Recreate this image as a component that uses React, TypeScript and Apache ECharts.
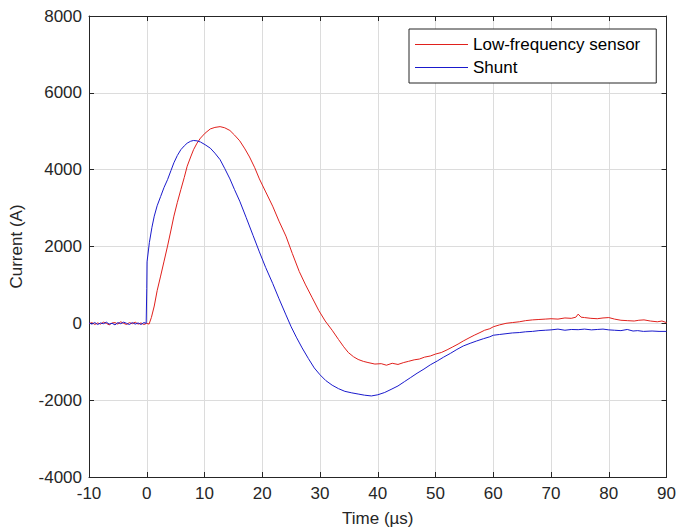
import React, { useEffect, useRef } from "react";
import * as echarts from "echarts";

const xTicks = { min: -10, max: 90, interval: 10 };
const yTicks = { min: -4000, max: 8000, interval: 2000 };

const seriesNames = ["Low-frequency sensor", "Shunt"];

// Low-frequency sensor: [time (µs), current (A)]
const lowFreq: [number, number][] = [
  [-10, -10], [-9.5, 20], [-9, -30], [-8.5, 10], [-8, -20], [-7.5, 30], [-7, 0], [-6.5, -40],
  [-6, 10], [-5.5, 20], [-5, -20], [-4.5, 40], [-4, 0], [-3.5, -30], [-3, 20], [-2.5, -10],
  [-2, 30], [-1.5, -20], [-1, 10], [-0.5, -30], [0, 0], [0.4, -20], [0.8, 150], [1.3, 450],
  [1.8, 850], [2.4, 1230], [3.0, 1620], [3.6, 2010], [4.2, 2430], [4.7, 2790], [5.3, 3150],
  [5.9, 3480], [6.5, 3800], [7.0, 4090], [7.6, 4330], [8.1, 4520], [8.7, 4690], [9.3, 4820],
  [10.1, 4950], [11.0, 5060], [11.8, 5100], [12.7, 5120], [13.5, 5090], [14.4, 5020],
  [15.2, 4900], [16.1, 4750], [17.0, 4540], [17.8, 4330], [18.7, 4050], [19.5, 3760],
  [20.6, 3420], [21.8, 3050], [22.9, 2660], [24.1, 2270], [25.2, 1820], [26.4, 1350],
  [27.5, 1000], [28.6, 680], [29.8, 330], [30.9, 60], [32.1, -180], [33.2, -420], [34.1, -610],
  [34.9, -760], [35.8, -870], [36.6, -940], [37.5, -990], [38.3, -1020], [39.5, -1060],
  [40.6, -1050], [41.5, -1090], [42.5, -1040], [43.5, -1070], [44.5, -1020], [45.3, -990],
  [46.3, -950], [47.2, -930], [48.1, -880], [49.1, -850], [50.0, -800], [51.0, -760],
  [52.0, -690], [52.9, -620], [53.9, -540], [54.8, -460], [55.8, -380], [56.7, -310],
  [57.7, -240], [58.5, -180], [59.4, -140], [60.0, -90], [61.1, -40], [62.2, 0], [63.3, 20],
  [64.5, 40], [65.6, 70], [66.8, 90], [67.9, 100], [69.0, 110], [70.0, 120], [71.2, 110],
  [72.4, 140], [73.5, 130], [74.3, 160], [74.7, 240], [75.2, 160], [75.8, 150], [76.9, 130],
  [78.0, 120], [79.0, 140], [80.0, 150], [81.0, 110], [82.1, 80], [83.2, 70], [84.4, 60],
  [85.2, 80], [86.1, 90], [87.2, 60], [88.4, 40], [89.2, 60], [90.0, 20],
];

// Shunt: [time (µs), current (A)]
const shunt: [number, number][] = [
  [-10, 10], [-9.5, -20], [-9, 20], [-8.5, -30], [-8, 10], [-7.5, -10], [-7, 30], [-6.5, -20],
  [-6, 0], [-5.5, -40], [-5, 20], [-4.5, -10], [-4, 30], [-3.5, 0], [-3, -30], [-2.5, 20],
  [-2, -20], [-1.5, 10], [-1, -30], [-0.5, 20], [-0.1, 0], [0.0, 900], [0.05, 1600],
  [0.45, 2100], [0.9, 2500], [1.3, 2790], [1.8, 3060], [2.4, 3300], [3.0, 3540], [3.6, 3740],
  [4.2, 3980], [4.7, 4180], [5.3, 4370], [5.9, 4520], [6.5, 4620], [7.0, 4690], [7.6, 4740],
  [8.1, 4760], [8.7, 4750], [9.3, 4720], [10.1, 4650], [11.0, 4560], [11.8, 4430],
  [12.7, 4260], [13.5, 4030], [14.4, 3760], [15.2, 3480], [16.1, 3180], [17.2, 2760],
  [18.4, 2290], [19.5, 1860], [20.6, 1450], [21.8, 1040], [22.9, 640], [24.1, 220],
  [25.0, -90], [25.9, -360], [26.9, -640], [28.0, -920], [29.0, -1160], [30.0, -1340],
  [31.0, -1490], [32.1, -1610], [33.2, -1700], [34.3, -1770], [35.5, -1810], [36.6, -1840],
  [37.7, -1870], [38.9, -1890], [40.0, -1860], [41.2, -1800], [42.3, -1720], [43.5, -1630],
  [44.6, -1520], [45.7, -1410], [46.8, -1300], [48.0, -1190], [49.1, -1080], [50.3, -980],
  [51.4, -880], [52.6, -780], [53.7, -680], [54.8, -590], [56.0, -520], [57.1, -460],
  [58.3, -400], [59.4, -350], [60.0, -310], [61.1, -290], [62.2, -270], [63.3, -250],
  [64.5, -240], [65.6, -220], [66.8, -210], [67.9, -190], [69.0, -180], [70.0, -170],
  [71.2, -150], [72.4, -180], [73.5, -160], [74.7, -165], [75.8, -150], [77.0, -170],
  [78.0, -160], [79.0, -150], [80.0, -170], [81.0, -180], [82.1, -190], [83.2, -160],
  [84.2, -200], [85.0, -190], [86.0, -210], [87.5, -200], [88.7, -210], [90.0, -210],
];

const FONT = '"Liberation Sans", Arial, Helvetica, sans-serif';
const AX = "#262626";
const FS = 17;

export default function App() {
  const ref = useRef<HTMLDivElement>(null);
  useEffect(() => {
    if (!ref.current) return;
    const chart = echarts.init(ref.current, undefined, { renderer: "svg" });
    const baseX = {
      type: "value" as const,
      min: xTicks.min,
      max: xTicks.max,
      interval: xTicks.interval,
      axisLine: { show: true, onZero: false, lineStyle: { color: AX, width: 1 } },
      axisTick: { show: true, inside: true, length: 5, lineStyle: { color: AX } },
    };
    const baseY = {
      type: "value" as const,
      min: yTicks.min,
      max: yTicks.max,
      interval: yTicks.interval,
      axisLine: { show: true, onZero: false, lineStyle: { color: AX, width: 1 } },
      axisTick: { show: true, inside: true, length: 5, lineStyle: { color: AX } },
    };
    chart.setOption({
      animation: false,
      backgroundColor: "#fff",
      textStyle: { fontFamily: FONT },
      grid: { left: 84, right: 10, top: 16, bottom: 54, containLabel: false },
      legend: {
        show: true,
        data: seriesNames.map((n) => ({ name: n, icon: "rect" })),
        orient: "vertical",
        left: 409,
        top: 29,
        padding: [7, 16, 7, 6],
        itemWidth: 53,
        itemHeight: 1,
        itemGap: 6,
        borderColor: AX,
        borderWidth: 1,
        backgroundColor: "#fff",
        textStyle: { fontFamily: FONT, fontSize: FS, color: "#000", padding: [0, 0, 0, 0] },
      },
      xAxis: [
        {
          ...baseX,
          position: "bottom",
          name: "Time (µs)",
          nameLocation: "middle",
          nameGap: 33,
          nameTextStyle: { fontFamily: FONT, fontSize: FS, color: AX },
          axisLabel: { fontFamily: FONT, fontSize: FS, color: AX, margin: 8 },
          splitLine: { show: true, lineStyle: { color: "#dcdcdc", width: 1 } },
        },
        {
          ...baseX,
          position: "top",
          axisLabel: { show: false },
          splitLine: { show: false },
        },
      ],
      yAxis: [
        {
          ...baseY,
          position: "left",
          name: "Current (A)",
          nameLocation: "middle",
          nameRotate: 90,
          nameGap: 64,
          nameTextStyle: { fontFamily: FONT, fontSize: FS, color: AX },
          axisLabel: {
            fontFamily: FONT,
            fontSize: FS,
            color: AX,
            margin: 7,
            formatter: (v: number) => String(v),
          },
          splitLine: { show: true, lineStyle: { color: "#dcdcdc", width: 1 } },
        },
        {
          ...baseY,
          position: "right",
          axisLabel: { show: false },
          splitLine: { show: false },
        },
      ],
      series: [
        {
          name: seriesNames[0],
          type: "line",
          data: lowFreq,
          symbol: "none",
          showSymbol: false,
          color: "#e0201c",
          lineStyle: { color: "#e0201c", width: 1 },
          z: 3,
        },
        {
          name: seriesNames[1],
          type: "line",
          data: shunt,
          symbol: "none",
          showSymbol: false,
          color: "#1a1acc",
          lineStyle: { color: "#1a1acc", width: 1 },
          z: 4,
        },
      ],
    });
    return () => chart.dispose();
  }, []);
  return (
    <div
      ref={ref}
      style={{ position: "absolute", left: 0, top: 0, width: 679, height: 532 }}
    />
  );
}
